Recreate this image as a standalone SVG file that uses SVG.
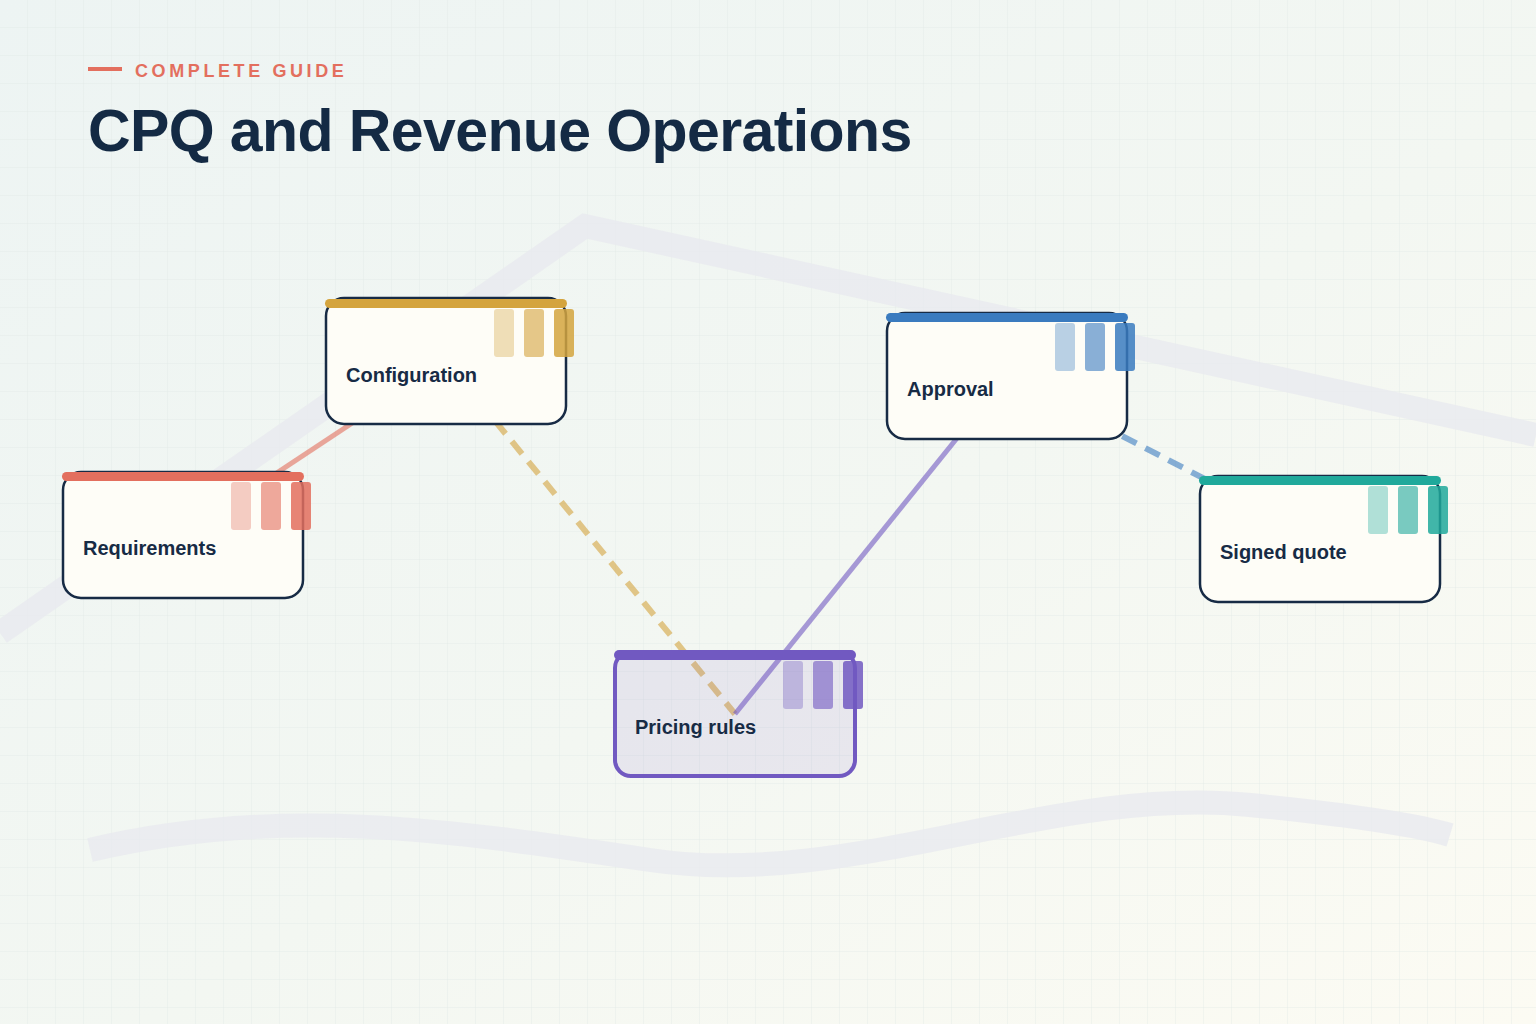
<svg xmlns="http://www.w3.org/2000/svg" width="1536" height="1024" viewBox="0 0 1536 1024">
  <defs>
    <linearGradient id="bg" x1="0" y1="0" x2="1" y2="1">
      <stop offset="0" stop-color="#edf4f3"/>
      <stop offset="0.55" stop-color="#f3f7f2"/>
      <stop offset="1" stop-color="#fcfbf3"/>
    </linearGradient>
    <pattern id="grid" width="28" height="28" patternUnits="userSpaceOnUse">
      <path d="M28 0 V28 M0 28 H28" fill="none" stroke="#dfe7e4" stroke-width="1" opacity="0.7"/>
    </pattern>
  </defs>
  <style>
    .card { fill: #fefdf7; stroke: #172b45; stroke-width: 2.5; }
    .label { font-family: "Liberation Sans", Arial, sans-serif; font-weight: bold; font-size: 20px; fill: #172b45; }
    .b1 { opacity: 0.35; }
    .b2 { opacity: 0.6; }
    .b3 { opacity: 0.85; }
    .deco { fill: none; stroke: #e9eaef; stroke-width: 24; opacity: 0.8; }
    .edge { fill: none; stroke-width: 5; }
    .dash { stroke-width: 6; stroke-dasharray: 16 10; }
  </style>

  <rect width="1536" height="1024" fill="url(#bg)"/>
  <rect width="1536" height="1024" fill="url(#grid)"/>

  <g id="decoration">
    <polyline class="deco" points="0,633 585,226 1536,435"/>
    <path class="deco" d="M90,850 C280,805 450,830 650,860 C850,890 1050,785 1250,805 C1350,815 1420,826 1450,835"/>
  </g>

  <g id="header">
    <line x1="88" y1="69" x2="122" y2="69" stroke="#e36f5e" stroke-width="4"/>
    <text x="135" y="77" font-family="Liberation Sans, Arial, sans-serif" font-weight="bold" font-size="18" letter-spacing="3.6" fill="#e36f5e">COMPLETE GUIDE</text>
    <text x="88" y="151" font-family="Liberation Sans, Arial, sans-serif" font-weight="bold" font-size="59" letter-spacing="-0.6" fill="#142a44">CPQ and Revenue Operations</text>
  </g>

  <g id="connectors">
    <line class="edge" x1="183" y1="535" x2="446" y2="361" stroke="#e36f5e" stroke-opacity="0.6"/>
    <line class="edge dash" x1="446" y1="361" x2="735" y2="714" stroke="#d4a43e" stroke-opacity="0.6"/>
    <line class="edge" x1="1007" y1="376" x2="735" y2="714" stroke="#7159c1" stroke-opacity="0.6"/>
    <line class="edge dash" x1="1007" y1="376" x2="1320" y2="539" stroke="#3a7bbf" stroke-opacity="0.6"/>
  </g>

  <g id="node-requirements">
    <rect class="card" x="63" y="472" width="240" height="126" rx="18"/>
    <rect x="62" y="472" width="242" height="9" rx="4.5" fill="#e36f5e"/>
    <rect class="b1" x="231" y="482" width="20" height="48" rx="3" fill="#e36f5e"/>
    <rect class="b2" x="261" y="482" width="20" height="48" rx="3" fill="#e36f5e"/>
    <rect class="b3" x="291" y="482" width="20" height="48" rx="3" fill="#e36f5e"/>
    <text class="label" x="83" y="555">Requirements</text>
  </g>

  <g id="node-configuration">
    <rect class="card" x="326" y="298" width="240" height="126" rx="18"/>
    <rect x="325" y="299" width="242" height="9" rx="4.5" fill="#d4a43e"/>
    <rect class="b1" x="494" y="309" width="20" height="48" rx="3" fill="#d4a43e"/>
    <rect class="b2" x="524" y="309" width="20" height="48" rx="3" fill="#d4a43e"/>
    <rect class="b3" x="554" y="309" width="20" height="48" rx="3" fill="#d4a43e"/>
    <text class="label" x="346" y="382">Configuration</text>
  </g>

  <g id="node-pricing-rules">
    <rect x="615" y="652" width="240" height="124" rx="16" fill="#7159c1" fill-opacity="0.1" stroke="#7159c1" stroke-width="4"/>
    <rect x="614" y="650" width="242" height="10" rx="5" fill="#7159c1"/>
    <rect class="b1" x="783" y="661" width="20" height="48" rx="3" fill="#7159c1"/>
    <rect class="b2" x="813" y="661" width="20" height="48" rx="3" fill="#7159c1"/>
    <rect class="b3" x="843" y="661" width="20" height="48" rx="3" fill="#7159c1"/>
    <text class="label" x="635" y="734">Pricing rules</text>
  </g>

  <g id="node-approval">
    <rect class="card" x="887" y="313" width="240" height="126" rx="18"/>
    <rect x="886" y="313" width="242" height="9" rx="4.5" fill="#3a7bbf"/>
    <rect class="b1" x="1055" y="323" width="20" height="48" rx="3" fill="#3a7bbf"/>
    <rect class="b2" x="1085" y="323" width="20" height="48" rx="3" fill="#3a7bbf"/>
    <rect class="b3" x="1115" y="323" width="20" height="48" rx="3" fill="#3a7bbf"/>
    <text class="label" x="907" y="396">Approval</text>
  </g>

  <g id="node-signed-quote">
    <rect class="card" x="1200" y="476" width="240" height="126" rx="18"/>
    <rect x="1199" y="476" width="242" height="9" rx="4.5" fill="#20a99b"/>
    <rect class="b1" x="1368" y="486" width="20" height="48" rx="3" fill="#20a99b"/>
    <rect class="b2" x="1398" y="486" width="20" height="48" rx="3" fill="#20a99b"/>
    <rect class="b3" x="1428" y="486" width="20" height="48" rx="3" fill="#20a99b"/>
    <text class="label" x="1220" y="559">Signed quote</text>
  </g>
</svg>
